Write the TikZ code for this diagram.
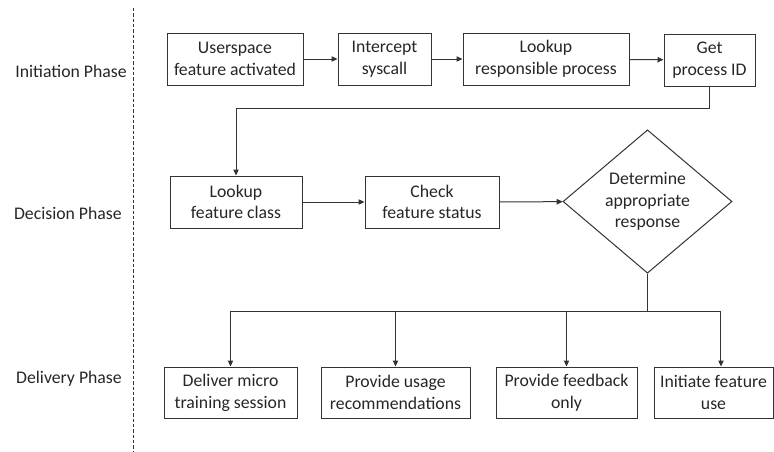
\documentclass[tikz,border=0pt]{standalone}
\usepackage{fontspec}
\setmainfont{Carlito}
\usetikzlibrary{arrows.meta,shapes.geometric}

\tikzset{basic/.style={draw=black!80,line width=0.75pt,text=black!85,
                       align=center,inner sep=0pt,
                       font=\fontsize{13.3}{16.3}\selectfont}}
\tikzset{process/.style={basic,rectangle,minimum height=39pt}}
\tikzset{decision/.style={basic,diamond,minimum width=126.75pt,minimum height=107.25pt}}
\tikzset{phase/.style={anchor=east,text=black!85,inner sep=0pt,
                       font=\fontsize{13.3}{16.3}\selectfont}}
\tikzset{arrow/.style={draw=black!80,line width=0.75pt,
                       -{Triangle[length=4.5pt,width=4pt]}}}
\tikzset{link/.style={draw=black!80,line width=0.75pt}}

\begin{document}
\begin{tikzpicture}[x=0.75pt,y=-0.75pt]
    \useasboundingbox (0,0) rectangle (774,451);
    % Phases
    \node[phase] (initiation) at (127,71)  {Initiation Phase};
    \node[phase] (decision)   at (122,213) {Decision Phase};
    \node[phase] (delivery)   at (122,379) {Delivery Phase};
    \coordinate (sepTop) at (133,8);
    \coordinate (sepBot) at (133,451);
    \draw[black!80,line width=0.6pt,dash pattern=on 2.5pt off 1.5pt] (sepTop) -- (sepBot);
    % Initiation
    \node[process,minimum width=102pt]   (activated) at (235,59)   {Userspace\\feature activated};
    \node[process,minimum width=69.75pt] (intercept) at (384.5,59) {Intercept\\syscall};
    \node[process,minimum width=124.5pt] (lookproc)  at (546,59)   {Lookup\\responsible process};
    \node[process,minimum width=68.25pt] (getpid)    at (709.5,60) {Get\\process ID};
    \draw[arrow] (activated) -- (intercept);
    \draw[arrow] (intercept) -- (lookproc);
    \draw[arrow] (lookproc) -- (getpid);
    % Decision
    \node[process,minimum width=99pt]    (lookclass) at (236,202)  {Lookup\\feature class};
    \node[process,minimum width=100.5pt] (status)    at (432,202)  {Check\\feature status};
    \node[decision] (respond) at (647.5,201.5) {Determine\\appropriate\\response};
    \draw[arrow] (getpid.south) -- ++(0,22) -| (lookclass.north);
    \draw[arrow] (lookclass) -- (status);
    \draw[arrow] (status) -- (respond);
    % Delivery
    \coordinate (bus) at (647.5,311);
    \draw[link] (respond.south) -- (bus);
    \foreach \t/\w/\x [count=\i] in {Deliver micro\\training session/99.75pt/230.5,
                                    Provide usage\\recommendations/111.75pt/395.5,
                                    Provide feedback\\only/105.75pt/566.5}{%
        \node[process,minimum width=\w,minimum height=38.25pt] (out\i) at (\x,392.5) {\t};
        \draw[arrow] (bus) -| (out\i.north);
      }
    \node[process,minimum width=89.25pt,minimum height=38.25pt] (out4) at (713.5,392.5) {Initiate feature\\use};
    \draw[arrow] (bus) -| ([xshift=5.6pt]out4.north);
\end{tikzpicture}
\end{document}
